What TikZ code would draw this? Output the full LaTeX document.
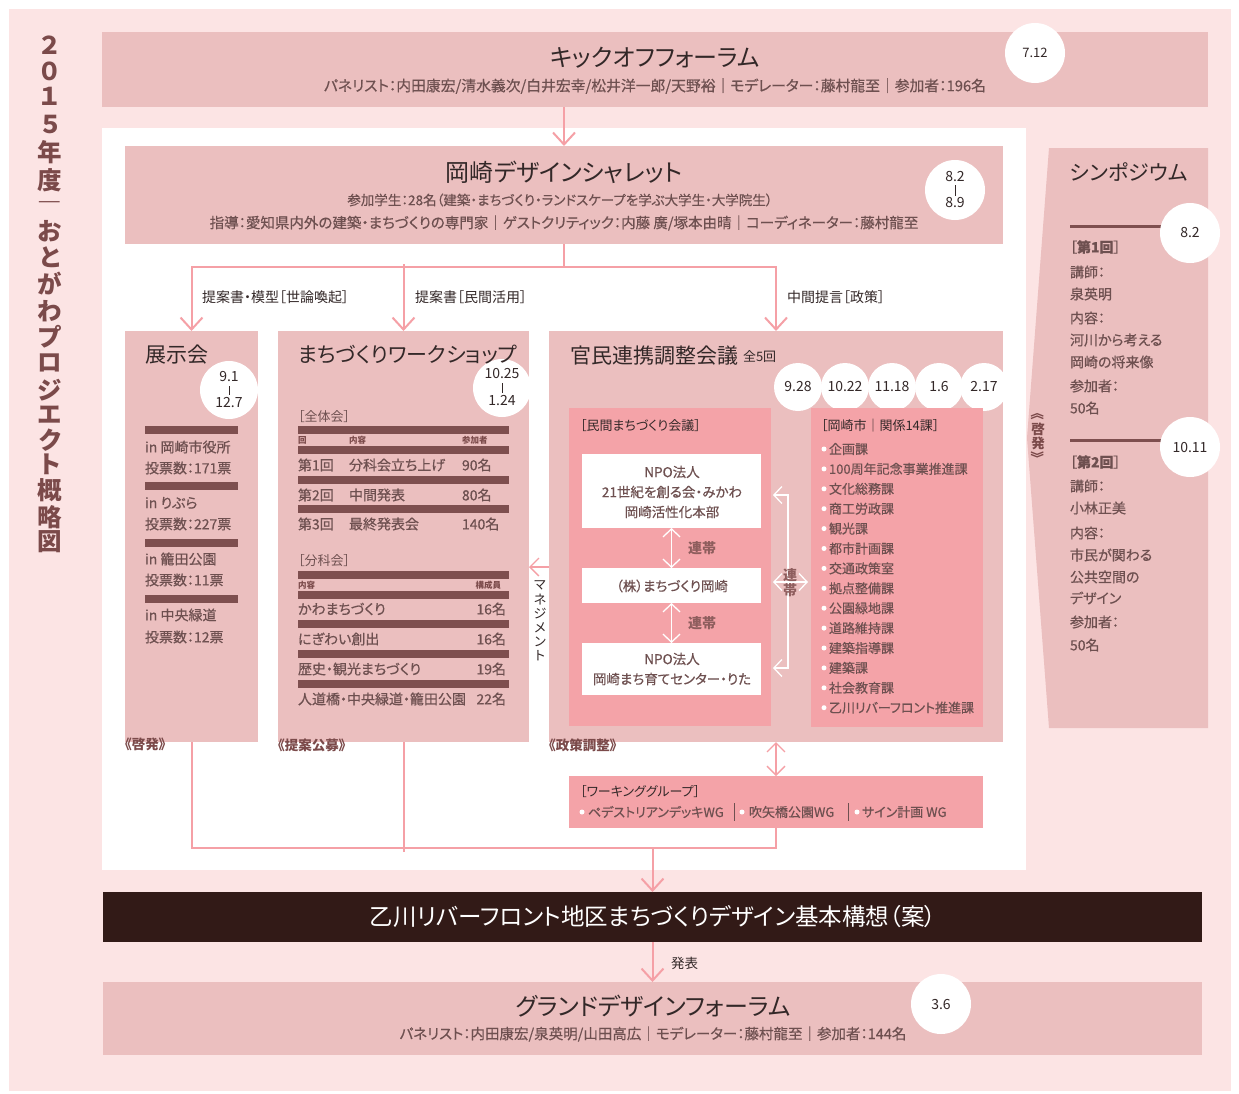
\documentclass[tikz,border=0pt]{standalone}
\usepackage{fontspec}
\setmainfont{Noto Sans CJK JP}[RawFeature=+palt]
\newfontfamily\medf{Noto Sans CJK JP}[RawFeature=+palt,FakeBold=0.5]
\usetikzlibrary{arrows.meta}
\definecolor{bgp}{HTML}{FCE4E4}
\definecolor{rose}{HTML}{EBBFBF}
\definecolor{dpink}{HTML}{F4A3A8}
\definecolor{lpink}{HTML}{F5A0A6}
\definecolor{barc}{HTML}{7E4F4F}
\definecolor{labc}{HTML}{7B4A4A}
\definecolor{titlec}{HTML}{332828}
\definecolor{bodyc}{HTML}{6E5050}
\definecolor{rentai}{HTML}{8E5D5D}
\definecolor{blackbox}{HTML}{321A17}
\newcommand\fsz[1]{\fontsize{#1}{#1}\selectfont}
\begin{document}
\begin{tikzpicture}[x=1pt,y=-1pt,
  every node/.style={inner sep=0pt,outer sep=0pt},
  box/.style={fill=rose,anchor=north west},
  tt/.style={text=titlec,font=\fsz{24}},
  sub/.style={text=bodyc,font=\medf\fsz{14.5}},
  bd/.style={text=bodyc,font=\medf\fsz{14},anchor=west},
  hd/.style={text=titlec,font=\fsz{21},anchor=west},
  sm/.style={text=titlec,font=\fsz{13},anchor=west},
  lab/.style={text=labc,font=\bfseries\fsz{13.5},anchor=west},
  datec/.style={circle,fill=white,minimum size=#1},
  dt/.style={text=titlec,font=\fsz{14}},
  pl/.style={draw=lpink,line width=2pt},
  arr/.style={pl,-{Straight Barb[length=12pt,width=22pt,line width=2pt]}},
  darr/.style={draw=lpink,line width=1.3pt,{Straight Barb[length=9pt,width=18pt,line width=1.3pt]}-{Straight Barb[length=9pt,width=18pt,line width=1.3pt]}},
  marr/.style={draw=lpink,line width=1.3pt,-{Straight Barb[length=9pt,width=18pt,line width=1.3pt]}},
  warr/.style={draw=white,line width=1.3pt,{Straight Barb[length=8pt,width=17pt,line width=1.3pt]}-{Straight Barb[length=8pt,width=17pt,line width=1.3pt]}},
  bar/.style={fill=barc},
  tick/.style={draw=titlec,line width=0.6pt}
]
\useasboundingbox (0,0) rectangle (1239,1093);
\fill[white] (0,0) rectangle (1239,1093);
\fill[bgp] (9,9) rectangle (1231,1091);
\fill[white] (102,128) rectangle (1026,870);

% vertical title
\foreach \c/\y [count=\i from 0] in {２/45,０/71,１/96,５/124,年/152,度/180,―/207,お/231,と/257,が/284,わ/311,プ/337,ロ/363,ジ/390,エ/415,ク/440,ト/464,概/490,略/517,図/542}
  \node[font=\bfseries\fsz{24.5},text=labc] (v\i) at (50,\y) {\c};

% kickoff
\node[box,minimum width=1106pt,minimum height=75pt] (kick) at (102,32) {};
\node[tt] (kickt) at (655,58) {キックオフフォーラム};
\node[sub,font=\medf\fsz{14.8}] (kicks) at (655,86) {パネリスト：内田康宏/清水義次/白井宏幸/松井洋一郎/天野裕｜モデレーター：藤村龍至｜参加者：196名};
\node[datec=60pt,font=\fsz{13},text=titlec] (kickc) at (1035,53) {7.12};

% charrette
\node[box,minimum width=878pt,minimum height=98pt] (char) at (125,146) {};
\node[tt] (chart) at (564,172) {岡崎デザインシャレット};
\node[sub,font=\medf\fsz{13.5}] (chars1) at (560,200) {参加学生：28名（建築・まちづくり・ランドスケープを学ぶ大学生・大学院生）};
\node[sub] (chars2) at (564,223) {指導：愛知県内外の建築・まちづくりの専門家｜ゲストクリティック：内藤 廣/塚本由晴｜コーディネーター：藤村龍至};
\node[datec=60pt] (charc) at (955,190) {};
\node[dt] (charc1) at (955,177) {8.2};
\node[dt] (charc2) at (955,203) {8.9};
\draw[tick] (955,185) -- (955,196);

% three boxes
\node[box,minimum width=133pt,minimum height=411pt] (exh) at (125,331) {};
\node[box,minimum width=251pt,minimum height=411pt] (ws) at (278,331) {};
\node[box,minimum width=454pt,minimum height=411pt] (kan) at (549,331) {};

% arrows top
\draw[arr] (kick.south -| char.north) -- (char.north);
\coordinate (split) at (564,267);
\draw[pl] (char.south) -- (split);
\draw[arr] (split) -| (exh.north);
\draw[arr] (split) -| (kan.north);
\coordinate (wstop) at (403.5,264);
\draw[arr] (wstop) -- (ws.north);
\node[sm,font=\fsz{14}] (l1) at (202,297) {提案書・模型［世論喚起］};
\node[sm,font=\fsz{14}] (l2) at (415,297) {提案書［民間活用］};
\node[sm,font=\fsz{14}] (l3) at (787,297) {中間提言［政策］};

% exhibition
\node[datec=58pt] (exc) at (229,390) {};
\node[dt] (exc1) at (229,377) {9.1};
\node[dt] (exc2) at (229,403) {12.7};
\draw[tick] (229,386) -- (229,395);
\node[hd] (ext) at (145,355) {展示会};
\foreach \y in {430,486,543,599} \fill[bar] (145,\y-4) rectangle (238,\y+4);
\node[bd] (e1) at (145,447) {in 岡崎市役所};
\node[bd] (e2) at (145,468) {投票数：171票};
\node[bd] (e3) at (145,503) {in りぶら};
\node[bd] (e4) at (145,524) {投票数：227票};
\node[bd] (e5) at (145,559) {in 籠田公園};
\node[bd] (e6) at (145,580) {投票数：11票};
\node[bd] (e7) at (145,615) {in 中央緑道};
\node[bd] (e8) at (145,637) {投票数：12票};

% workshop
\node[datec=58pt] (wsc) at (502,388) {};
\node[dt] (wsc1) at (502,374) {10.25};
\node[dt] (wsc2) at (502,401) {1.24};
\draw[tick] (502,383) -- (502,393);
\node[hd] (wst) at (298,355) {まちづくりワークショップ};
\node[sm,text=bodyc] (wsa) at (298,417) {［全体会］};
\foreach \y in {430,450,480,509,575,595,624,654,684} \fill[bar] (298,\y-4) rectangle (509,\y+4);
\node[lab,font=\bfseries\fsz{8.5}] (h1) at (298,440) {回};
\node[lab,font=\bfseries\fsz{8.5}] (h2) at (349,440) {内容};
\node[lab,font=\bfseries\fsz{8.5}] (h3) at (462,440) {参加者};
\node[bd] (r1a) at (298,465) {第1回};
\node[bd] (r1b) at (349,465) {分科会立ち上げ};
\node[bd] (r1c) at (462,465) {90名};
\node[bd] (r2a) at (298,495) {第2回};
\node[bd] (r2b) at (349,495) {中間発表};
\node[bd] (r2c) at (462,495) {80名};
\node[bd] (r3a) at (298,524) {第3回};
\node[bd] (r3b) at (349,524) {最終発表会};
\node[bd] (r3c) at (462,524) {140名};
\node[sm,text=bodyc] (wsb) at (298,561) {［分科会］};
\node[lab,font=\bfseries\fsz{8.5}] (h4) at (298,585) {内容};
\node[lab,font=\bfseries\fsz{8.5},anchor=east] (h5) at (501,585) {構成員};
\node[bd] (s1a) at (298,609) {かわまちづくり};
\node[bd,anchor=east] (s1b) at (506,609) {16名};
\node[bd] (s2a) at (298,639) {にぎわい創出};
\node[bd,anchor=east] (s2b) at (506,639) {16名};
\node[bd] (s3a) at (298,669) {歴史・観光まちづくり};
\node[bd,anchor=east] (s3b) at (506,669) {19名};
\node[bd] (s4a) at (298,699) {人道橋・中央緑道・籠田公園};
\node[bd,anchor=east] (s4b) at (506,699) {22名};

% management
\draw[marr] (kan.west |- 0,567) -- (ws.east |- 0,567);
\foreach \c [count=\i from 0] in {マ,ネ,ジ,メ,ン,ト}
  \node[font=\fsz{13},text=titlec] (m\i) at (540,{585+14.2*\i}) {\c};

% kanmin
\node[hd] (kant) at (570,356) {官民連携調整会議};
\node[sm] (kan5) at (743,357) {全5回};
\foreach \x/\d [count=\i] in {798/9.28,845/10.22,892/11.18,939/1.6,984/2.17}
  \node[datec=48pt,font=\fsz{14},text=titlec] (kd\i) at (\x,387) {\d};
\node[box,fill=dpink,minimum width=202pt,minimum height=318pt] (priv) at (569,408) {};
\node[box,fill=dpink,minimum width=172pt,minimum height=319pt] (city) at (811,408) {};
\node[sm] (privl) at (580,426) {［民間まちづくり会議］};
\node[box,fill=white,minimum width=179pt,minimum height=74pt] (npo1) at (582,454) {};
\node[box,fill=white,minimum width=179pt,minimum height=35pt] (kabu) at (582,568) {};
\node[box,fill=white,minimum width=179pt,minimum height=52pt] (npo2) at (582,643) {};
\node[text=bodyc,font=\medf\fsz{13.5}] (n1a) at (672,472) {NPO法人};
\node[text=bodyc,font=\medf\fsz{13.5}] (n1b) at (672,492) {21世紀を創る会・みかわ};
\node[text=bodyc,font=\medf\fsz{13.5}] (n1c) at (672,512) {岡崎活性化本部};
\node[text=bodyc,font=\medf\fsz{13.5}] (k1) at (672,586) {（株）まちづくり岡崎};
\node[text=bodyc,font=\medf\fsz{13.5}] (n2a) at (672,659) {NPO法人};
\node[text=bodyc,font=\medf\fsz{13.5}] (n2b) at (672,679) {岡崎まち育てセンター・りた};
\draw[warr] (npo1.south) -- (kabu.north);
\draw[warr] (kabu.south) -- (npo2.north);
\node[text=rentai,font=\bfseries\fsz{14},anchor=west] (rt1) at (688,548) {連帯};
\node[text=rentai,font=\bfseries\fsz{14},anchor=west] (rt2) at (688,623) {連帯};
\coordinate (br1) at (773,495);
\coordinate (br2) at (773,668);
\coordinate (brm1) at (773,582);
\coordinate (brm2) at (808,582);
\draw[warr] (br1) -- (788,495) -- (788,668) -- (br2);
\draw[warr] (brm1) -- (brm2);
\node[text=rentai,font=\bfseries\fsz{14}] (rv1) at (790,575) {連};
\node[text=rentai,font=\bfseries\fsz{14}] (rv2) at (790,590) {帯};
\node[sm] (cityl) at (821,426) {［岡崎市｜関係14課］};
\foreach \t [count=\i from 0] in {企画課,100周年記念事業推進課,文化総務課,商工労政課,観光課,都市計画課,交通政策室,拠点整備課,公園緑地課,道路維持課,建築指導課,建築課,社会教育課,乙川リバーフロント推進課} {
  \fill[white] (824,{449+19.9*\i}) circle (2.5pt);
  \node[bd,font=\medf\fsz{13}] (cl\i) at (829,{449+19.9*\i}) {\t};
}

% labels
\node[lab] (lb1) at (125,744) {《啓発》};
\node[lab] (lb2) at (278,745) {《提案公募》};
\node[lab] (lb3) at (549,745) {《政策調整》};

% working group
\node[box,fill=dpink,minimum width=414pt,minimum height=52pt] (wg) at (569,776) {};
\draw[darr] (kan.south) -- (wg.north);
\node[sm] (wgl) at (580,792) {［ワーキンググループ］};
\fill[white] (582,812) circle (2.5pt);
\fill[white] (742,812) circle (2.5pt);
\fill[white] (857,812) circle (2.5pt);
\node[bd,font=\medf\fsz{13}] (wg1) at (588,812) {ペデストリアンデッキWG};
\node[bd,font=\medf\fsz{13}] (wg2) at (749,812) {吹矢橋公園WG};
\node[bd,font=\medf\fsz{13}] (wg3) at (862,812) {サイン計画 WG};
\draw[bodyc,line width=0.6pt] (734,803) -- (734,821);
\draw[bodyc,line width=0.6pt] (848,803) -- (848,821);

% bottom connections
\node[box,fill=blackbox,minimum width=1099pt,minimum height=50pt] (black) at (103,892) {};
\node[box,minimum width=1099pt,minimum height=73pt] (grand) at (103,982) {};
\coordinate (join) at (653,848);
\draw[pl] (exh.south) -- (exh.south |- join) -- (wg.south |- join) -- (wg.south);
\coordinate (wsend) at (403.5,852);
\draw[pl] (ws.south) -- (wsend);
\draw[arr] (black.north |- join) -- (black.north);
\draw[arr] (black.south) -- (grand.north);
\node[text=white,font=\fsz{23.5}] (bt) at (653,917) {乙川リバーフロント地区まちづくりデザイン基本構想（案）};
\node[sm,font=\fsz{13.5}] (pub) at (671,963) {発表};
\node[tt] (gt) at (653,1006) {グランドデザインフォーラム};
\node[sub] (gs) at (653,1034) {パネリスト：内田康宏/泉英明/山田高広｜モデレーター：藤村龍至｜参加者：144名};
\node[datec=60pt,font=\fsz{14},text=titlec] (gc) at (941,1004) {3.6};

% symposium
\fill[rose] (1049,148) -- (1208,148) -- (1208,728) -- (1049,728) -- (1027,438) -- cycle;
\node[hd] (sy) at (1070,172) {シンポジウム};
\draw[barc,line width=3pt] (1070,226) -- (1170,226);
\draw[barc,line width=3pt] (1070,440) -- (1170,440);
\node[datec=60pt,font=\fsz{14},text=titlec] (sc1) at (1190,233) {8.2};
\node[datec=60pt,font=\fsz{14},text=titlec] (sc2) at (1190,447) {10.11};
\foreach \t/\y [count=\i] in {{［\textbf{第1回}］}/247,講師：/272,泉英明/294,内容：/318,河川から考える/340,岡崎の将来像/362,参加者：/386,50名/408,{［\textbf{第2回}］}/462,講師：/486,小林正美/508,内容：/533,市民が関わる/555,公共空間の/577,デザイン/598,参加者：/622,50名/645}
  \node[bd] (sy\i) at (1070,\y) {\t};
\node[lab,anchor=center,rotate=-90] (kv1) at (1038,417) {《};
\node[lab,anchor=center] (kv2) at (1038,429) {啓};
\node[lab,anchor=center] (kv3) at (1038,443) {発};
\node[lab,anchor=center,rotate=-90] (kv4) at (1038,455) {》};
\end{tikzpicture}
\end{document}
